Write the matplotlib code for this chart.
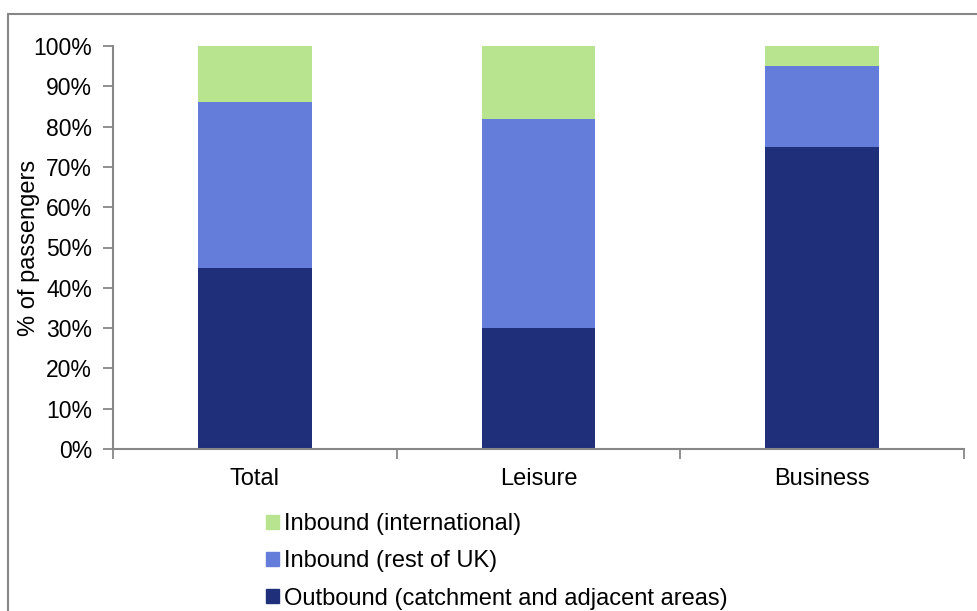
import matplotlib.pyplot as plt
import numpy as np
from matplotlib.patches import Patch, Rectangle

plt.rcParams['font.family'] = ['Liberation Sans', 'DejaVu Sans']

categories = ['Total', 'Leisure', 'Business']
outbound = [45, 30, 75]
inbound_uk = [41, 52, 20]
inbound_intl = [14, 18, 5]

c_out = '#1f2f7a'
c_uk = '#647ddb'
c_intl = '#b9e48f'
grey = '#878787'

fig = plt.figure(figsize=(9.78, 6.11), dpi=100)
ax = fig.add_axes([113/978, 1-449/611, (964-113)/978, (449-46)/611])

x = np.arange(len(categories))
w = 0.4
ax.bar(x, outbound, w, color=c_out)
ax.bar(x, inbound_uk, w, bottom=outbound, color=c_uk)
bot2 = np.array(outbound) + np.array(inbound_uk)
ax.bar(x, inbound_intl, w, bottom=bot2, color=c_intl)

ax.set_xlim(-0.5, 2.5)
ax.set_ylim(0, 100)
ax.set_yticks(range(0, 101, 10))
ax.set_yticklabels([f'{v}%' for v in range(0, 101, 10)])
ax.set_xticks(x)
ax.set_xticklabels(categories)
ax.set_xticks([-0.5, 0.5, 1.5, 2.5], minor=True)
ax.tick_params(axis='x', which='major', length=0, pad=14, labelsize=17)
ax.tick_params(axis='x', which='minor', length=7, width=1.3, color=grey)
ax.tick_params(axis='y', length=7, width=1.3, color=grey, labelsize=16.5, pad=8)
for s in ['top', 'right']:
    ax.spines[s].set_visible(False)
for s in ['left', 'bottom']:
    ax.spines[s].set_color(grey)
    ax.spines[s].set_linewidth(1.5)
ax.set_ylabel('% of passengers', fontsize=17, labelpad=-5)

# outer frame
fig.patches.append(Rectangle((8/978, -0.05), 1.2, 1-14/611+0.05, transform=fig.transFigure,
                             fill=False, edgecolor=grey, linewidth=1.5))

handles = [Patch(color=c_intl), Patch(color=c_uk), Patch(color=c_out)]
labels = ['Inbound (international)', 'Inbound (rest of UK)', 'Outbound (catchment and adjacent areas)']
fig.legend(handles, labels, loc='upper left', bbox_to_anchor=(266/978, 1-513/611),
           frameon=False, fontsize=17, handlelength=0.55, handleheight=0.55,
           handletextpad=0.2, labelspacing=0.65, borderaxespad=0, borderpad=0)

fig.savefig('out.png', dpi=100)
